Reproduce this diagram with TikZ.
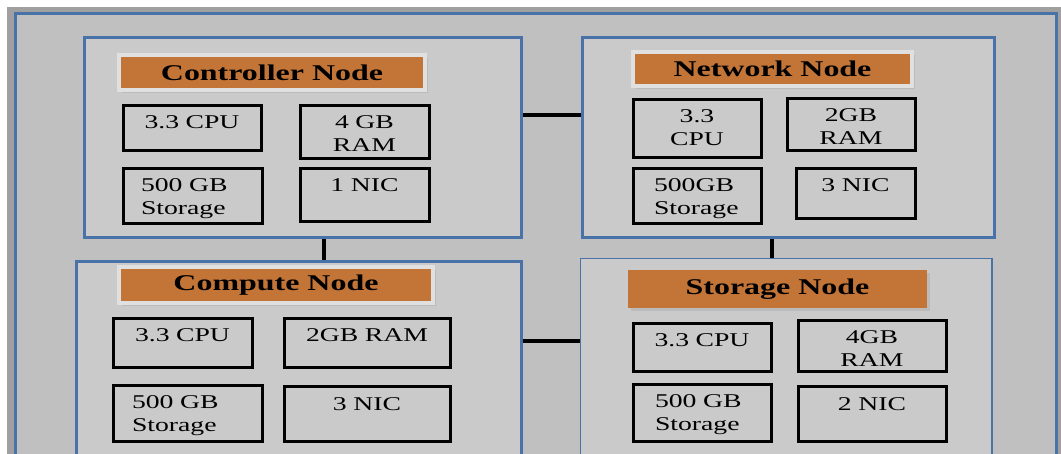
\documentclass[tikz,border=0pt]{standalone}
\usepackage{fontspec}
\setmainfont{Liberation Serif}[FakeStretch=1.42]
\usetikzlibrary{shadows}

\definecolor{steel}{RGB}{72,114,168}
\definecolor{rust}{RGB}{195,116,55}
\definecolor{backgray}{RGB}{192,192,192}
\definecolor{boxgray}{RGB}{202,202,202}
\definecolor{bandgray}{RGB}{160,160,160}
\definecolor{halo}{RGB}{224,224,224}

\begin{document}
\begin{tikzpicture}[x=1pt, y=-1pt,
  server/.style={draw=steel, line width=3pt, fill=boxgray, anchor=north west, inner sep=0pt},
  title/.style={fill=rust, draw=halo, line width=4pt, inner sep=0pt, drop shadow={shadow xshift=3pt, shadow yshift=-3pt, opacity=.2}, font=\bfseries\fontsize{22.5}{27}\selectfont},
  part/.style={draw=black, line width=3pt, fill=boxgray, anchor=north west, inner sep=0pt, align=center, text height=23pt, font=\fontsize{19.5}{23}\selectfont},
  link/.style={draw=black, line width=4pt}]
\useasboundingbox (0,0) rectangle (1061,454);
\clip (0,0) rectangle (1061,454);
% frame
\fill[bandgray] (7,7) rectangle (1061,460);
\draw[steel, line width=3pt, fill=backgray] (15.5,13.5) rectangle (1056.5,470);

% the four servers
\node[server, minimum width=437pt, minimum height=200pt] (ctrl) at (82.5,36.5) {};
\node[server, minimum width=412pt, minimum height=200pt] (net) at (580.5,36.5) {};
\node[server, minimum width=445pt, minimum height=230pt] (comp) at (74.5,260.5) {};
\node[server, line width=1.5pt, minimum width=411.5pt, minimum height=230pt] (stor) at (579.75,257.75) {};

\node[title, minimum width=306pt, minimum height=35pt] (ctrltitle) at (272,72.5) {Controller Node};
\node[title, minimum width=279pt, minimum height=34pt] (nettitle) at (772.5,69) {Network Node};
\node[title, minimum width=314pt, minimum height=36pt] (comptitle) at (276,285) {Compute Node};
\node[title, draw=none, minimum width=299pt, minimum height=38pt] (stortitle) at (777.5,289) {Storage Node};

% controller
\node[part, text width=138pt, text depth=22pt] (ctrlcpu) at (121.5,104.5) {3.3 CPU};
\node[part, text width=129pt, text depth=30pt] (ctrlram) at (298.5,104.5) {4 GB\\RAM};
\node[part, align=left, inner xsep=18pt, text width=103pt, text depth=32pt] (ctrlsto) at (121.5,167.5) {500 GB\\Storage};
\node[part, text width=129pt, text depth=30pt] (ctrlnic) at (298.5,167.5) {1 NIC};

% network
\node[part, text width=128pt, text depth=35pt] (netcpu) at (631.5,98.5) {3.3\\CPU};
\node[part, text width=128pt, text depth=29pt] (netram) at (785.5,97.5) {2GB\\RAM};
\node[part, align=left, inner xsep=21pt, text width=86pt, text depth=32pt] (netsto) at (631.5,167.5) {500GB\\Storage};
\node[part, text width=119pt, text depth=27pt] (netnic) at (794.5,167.5) {3 NIC};

% compute
\node[part, text width=139pt, text depth=26pt] (compcpu) at (111.5,317.5) {3.3 CPU};
\node[part, text width=166pt, text depth=26pt] (compram) at (282.5,317.5) {2GB RAM};
\node[part, align=left, inner xsep=19pt, text width=111pt, text depth=32pt] (compsto) at (111.5,384.5) {500 GB\\Storage};
\node[part, text width=166pt, text depth=31pt] (compnic) at (282.5,385.5) {3 NIC};

% storage
\node[part, text width=138pt, text depth=25pt] (storcpu) at (631.5,322.5) {3.3 CPU};
\node[part, text width=148pt, text depth=28pt] (storram) at (796.5,319.5) {4GB\\RAM};
\node[part, align=left, inner xsep=22pt, text width=94pt, text depth=33pt] (storsto) at (631.5,383.5) {500 GB\\Storage};
\node[part, text width=148pt, text depth=31pt] (stornic) at (796.5,385.5) {2 NIC};

% links
\draw[link] ([yshift=22.5pt]ctrl.east) -- ([yshift=22.5pt]ctrl.east -| net.west);
\draw[link] ([xshift=21pt]ctrl.south) -- ([xshift=21pt]ctrl.south |- comp.north);
\draw[link] ([xshift=-16.5pt]net.south) -- ([xshift=-16.5pt]net.south |- stor.north);
\draw[link] ([yshift=-81pt]comp.north east) -- ([yshift=-81pt]comp.north east -| stor.west);
\end{tikzpicture}
\end{document}
